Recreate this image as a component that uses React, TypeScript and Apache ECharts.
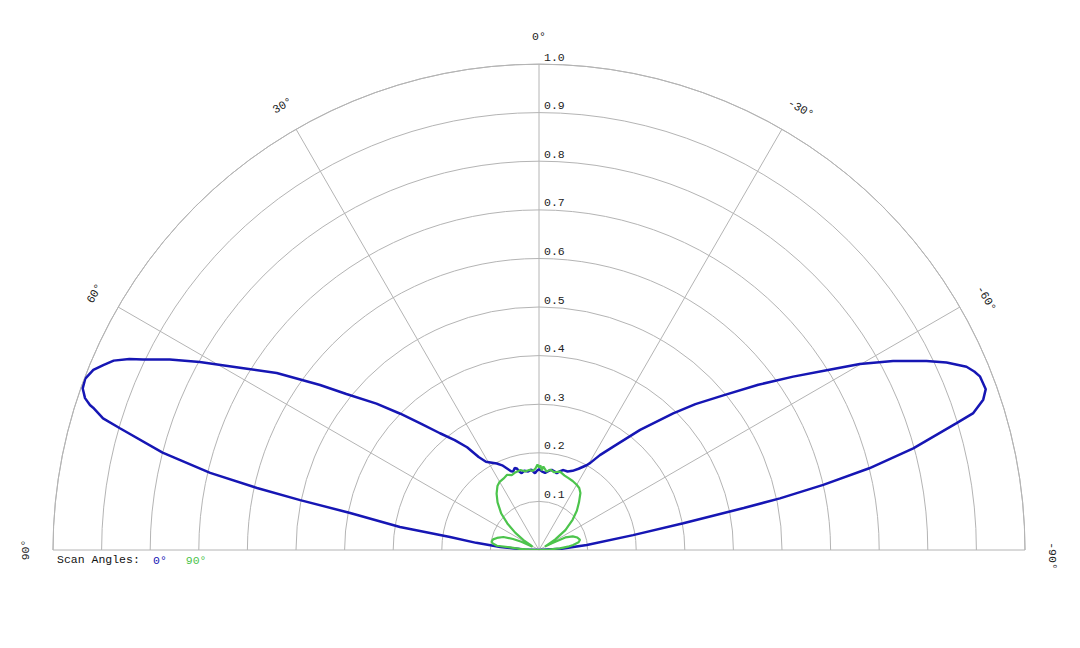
import { useEffect, useRef } from 'react';
import * as echarts from 'echarts';

const FONT = "'Courier New', 'Liberation Mono', monospace";
const BLUE = '#1616b4';
const GREEN = '#4cc44c';
const GRID = '#b4b4b4';
const TEXT = '#222';

// angle axis ticks (0° up, positive to the left)
const angleTicks = [90, 60, 30, 0, -30, -60, -90];
const angleTickLabels = ['90°', '60°', '30°', '0°', '-30°', '-60°', '-90°'];

// scan angle 0°
const scan0Theta = [
  90, 88, 85.6, 83.5, 81.7, 80.6, 78.9, 78.2, 77.6, 76.8, 75.5, 73.8, 73.2, 72.3, 72.1, 71.5, 70.5, 69.3,
  68, 67, 66, 65, 64.3, 62.7, 61, 58.4, 56, 53, 51, 48, 45.5, 43, 40.3, 37.5, 35, 33, 31, 29, 26, 23.5,
  21.6, 19.5, 18.2, 16.5, 15.3, 14, 12.7, 10.5, 7.8, 5.5, 3, 1.5, 0, -2, -4.5, -7, -9, -11, -13,
  -15, -17, -20, -23, -26, -29.3, -30.5, -32.7, -35.7, -40.1, -44.5, -47, -50, -53, -55.7, -58,
  -59.9, -61.9, -64, -65.3, -66.8, -67.7, -68.5, -70.2, -71.3, -72.5, -73.1, -74.8, -76.1, -77.1, -77.9, -78.4,
  -79.5, -81, -84, -87, -90,
];
const scan0R = [
  0, 0.03, 0.08, 0.13, 0.185, 0.29, 0.396, 0.502, 0.594, 0.695, 0.8, 0.898, 0.937, 0.963, 0.971, 0.985, 0.996, 0.998,
  0.989, 0.974, 0.958, 0.93, 0.904, 0.855, 0.798, 0.714, 0.651, 0.564, 0.51, 0.45, 0.4, 0.355, 0.315, 0.285, 0.258, 0.228, 0.212, 0.206, 0.198, 0.19,
  0.181, 0.172, 0.17, 0.176, 0.174, 0.166, 0.162, 0.166, 0.163, 0.166, 0.158, 0.163, 0.166, 0.162, 0.159, 0.164, 0.167, 0.165, 0.162,
  0.168, 0.172, 0.172, 0.177, 0.186, 0.2, 0.208, 0.232, 0.262, 0.323, 0.394, 0.44, 0.495, 0.565, 0.633, 0.698,
  0.763, 0.826, 0.887, 0.923, 0.957, 0.968, 0.975, 0.977, 0.965, 0.937, 0.898, 0.798, 0.7, 0.6, 0.507, 0.43,
  0.302, 0.196, 0.099, 0.045, 0,
];

// scan angle 90°
const scan90Theta = [
  90, 88, 86.5, 85, 84.2, 82, 80, 77, 74, 70, 67, 65, 63, 61, 58, 54, 50, 46, 41, 37, 33, 30,
  26.5, 23, 20, 17, 13, 10, 7, 4.5, 2.5, 1, 0, -1, -2, -3, -5.5, -8, -11, -15, -19, -22, -26, -30,
  -33, -36, -40, -44, -48, -53, -57, -60, -62, -64.5, -68, -72, -76, -79, -81.7, -83.5, -85.4,
  -87.5, -90,
];
const scan90R = [
  0, 0.02, 0.04, 0.06, 0.087, 0.096, 0.099, 0.097, 0.09, 0.078, 0.058, 0.04, 0.015, 0.018, 0.035, 0.06, 0.085, 0.108, 0.13, 0.145, 0.157, 0.162,
  0.164, 0.168, 0.164, 0.167, 0.169, 0.164, 0.166, 0.163, 0.168, 0.176, 0.17, 0.174, 0.164, 0.172, 0.162, 0.167, 0.163, 0.167, 0.162, 0.16, 0.158, 0.155,
  0.152, 0.145, 0.128, 0.112, 0.093, 0.068, 0.04, 0.014, 0.03, 0.06, 0.075, 0.083, 0.087, 0.083, 0.071, 0.06, 0.043,
  0.02, 0,
];

export default function App() {
  const chartRef = useRef<HTMLDivElement>(null);

  useEffect(() => {
    if (!chartRef.current) return;
    const chart = echarts.init(chartRef.current, null, { renderer: 'svg' });

    const pairs = (rs: number[], ts: number[]) => rs.map((r, i) => [r, ts[i]]);

    chart.setOption({
      animation: false,
      polar: [
        { center: [539, 550], radius: 486 },
        { center: [539, 550], radius: 486 },
      ],
      angleAxis: [
        {
          polarIndex: 0,
          type: 'value',
          min: -90,
          max: 90,
          interval: 30,
          startAngle: 0,
          endAngle: 180,
          clockwise: false,
          axisLine: { lineStyle: { color: GRID, width: 1 } },
          axisTick: { show: false },
          axisLabel: { show: false },
          splitLine: { lineStyle: { color: GRID, width: 1 } },
        },
        {
          polarIndex: 1,
          type: 'value',
          min: 0,
          max: 360,
          startAngle: 90,
          axisLine: { show: false },
          axisTick: { show: false },
          axisLabel: { show: false },
          splitLine: { show: false },
        },
      ],
      radiusAxis: [
        {
          polarIndex: 0,
          type: 'value',
          min: 0,
          max: 1,
          interval: 0.1,
          axisLine: { show: false },
          axisTick: { show: false },
          axisLabel: { show: false },
          splitLine: { lineStyle: { color: GRID, width: 1 } },
        },
        {
          polarIndex: 1,
          type: 'value',
          min: 0,
          max: 1,
          interval: 0.1,
          axisLine: { show: false },
          axisTick: { show: false },
          splitLine: { show: false },
          axisLabel: {
            margin: -5,
            align: 'left',
            verticalAlign: 'bottom',
            padding: [0, 0, 1, 0],
            fontFamily: FONT,
            fontSize: 11.5,
            color: TEXT,
            formatter: (v: number) => (v === 0 ? '' : v.toFixed(1)),
          },
        },
      ],
      legend: {
        left: 143,
        top: 549,
        icon: 'none',
        itemWidth: 0,
        itemHeight: 10,
        itemGap: 14,
        selectedMode: false,
        textStyle: { fontFamily: FONT, fontSize: 11.5 },
        data: [
          { name: '0°', textStyle: { color: BLUE } },
          { name: '90°', textStyle: { color: GREEN } },
        ],
      },
      series: [
        {
          name: '0°',
          type: 'line',
          coordinateSystem: 'polar',
          polarIndex: 0,
          symbol: 'none',
          lineStyle: { color: BLUE, width: 2.5 },
          itemStyle: { color: BLUE },
          data: pairs(scan0R, scan0Theta),
        },
        {
          name: '90°',
          type: 'line',
          coordinateSystem: 'polar',
          polarIndex: 0,
          symbol: 'none',
          lineStyle: { color: GREEN, width: 2.2 },
          itemStyle: { color: GREEN },
          data: pairs(scan90R, scan90Theta),
        },
      ],
    });

    // tangential angle labels, placed through the polar coordinate system
    const labels = angleTicks.map((a, i) => {
      const p = chart.convertToPixel({ seriesIndex: 0 }, [1.056, a]) as number[];
      const rot = (a * Math.PI) / 180;
      const shift = a < 0 ? 6 : 0;
      return {
        type: 'text',
        x: p[0] + Math.cos(rot) * shift,
        y: p[1] - Math.sin(rot) * shift,
        rotation: rot,
        style: {
          text: angleTickLabels[i],
          fill: TEXT,
          font: `11.5px ${FONT}`,
          align: 'center',
          verticalAlign: 'middle',
        },
      };
    });

    chart.setOption({
      graphic: [
        ...labels,
        {
          type: 'text',
          left: 57,
          top: 553,
          style: { text: 'Scan Angles:', fill: '#111', font: `11.5px ${FONT}` },
        },
      ],
    });

    return () => chart.dispose();
  }, []);

  return (
    <div
      ref={chartRef}
      style={{ position: 'fixed', left: 0, top: 0, width: 1080, height: 648, background: '#fff' }}
    />
  );
}
